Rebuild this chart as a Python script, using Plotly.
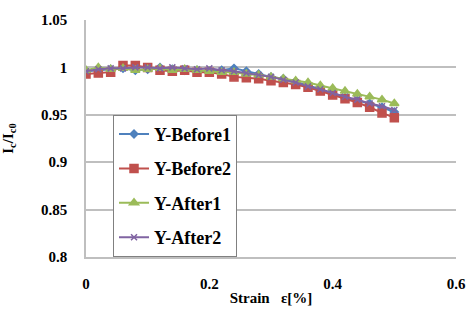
import plotly.graph_objects as go

strain = [0.00, 0.02, 0.04, 0.06, 0.08, 0.10, 0.12, 0.14, 0.16, 0.18, 0.20, 0.22, 0.24,
          0.26, 0.28, 0.30, 0.32, 0.34, 0.36, 0.38, 0.40, 0.42, 0.44, 0.46, 0.48, 0.50]
y_before1 = [0.996, 0.997, 0.998, 0.999, 0.997, 0.998, 1.000, 0.998, 0.997, 0.997, 0.996, 0.997, 0.999,
             0.996, 0.993, 0.990, 0.988, 0.985, 0.981, 0.977, 0.972, 0.968, 0.965, 0.962, 0.958, 0.953]
y_before2 = [0.993, 0.994, 0.995, 1.002, 1.002, 1.000, 0.997, 0.996, 0.997, 0.995, 0.995, 0.993, 0.990,
             0.989, 0.988, 0.986, 0.984, 0.982, 0.979, 0.975, 0.971, 0.967, 0.963, 0.958, 0.952, 0.947]
y_after1 = [0.997, 1.000, 0.998, 0.999, 0.997, 0.998, 0.999, 0.997, 0.998, 0.997, 0.996, 0.995, 0.995,
            0.993, 0.992, 0.990, 0.988, 0.986, 0.984, 0.981, 0.978, 0.975, 0.972, 0.969, 0.966, 0.962]
y_after2 = [0.996, 0.998, 0.999, 0.999, 1.000, 1.000, 0.999, 1.000, 0.999, 0.998, 0.999, 0.997, 0.996,
            0.994, 0.992, 0.990, 0.987, 0.984, 0.980, 0.977, 0.973, 0.969, 0.966, 0.962, 0.959, 0.955]

names = ["Y-Before1", "Y-Before2", "Y-After1", "Y-After2"]
colors = ["#4F81BD", "#C0504D", "#9BBB59", "#8064A2"]
symbols = ["diamond", "square", "triangle-up", "x-thin"]
sizes = [6, 8, 8, 6]
series = [y_before1, y_before2, y_after1, y_after2]

FONT = "Liberation Serif"

fig = go.Figure()
for name, ys, c, s, sz in zip(names, series, colors, symbols, sizes):
    fig.add_trace(go.Scatter(
        x=strain, y=ys, name=name, mode="lines+markers",
        line=dict(color=c, width=2),
        marker=dict(symbol=s, size=sz, color=c, line=dict(color=c, width=1.5)),
        legendgroup=name,
    ))

fig.update_layout(
    width=469, height=325,
    margin=dict(l=86, r=13, t=20, b=68),
    paper_bgcolor="white", plot_bgcolor="white",
    font=dict(family=FONT, size=14, color="black"),
    showlegend=True,
    legend=dict(
        x=0.073, y=0.6, xanchor="left", yanchor="top",
        bgcolor="white", bordercolor="#808080", borderwidth=1,
        font=dict(family=FONT, size=18, color="black", weight="bold"),
        tracegroupgap=8, itemwidth=30,
    ),
    xaxis=dict(
        range=[0, 0.6], tickvals=[0, 0.2, 0.4, 0.6], ticktext=["0", "0.2", "0.4", "0.6"],
        showgrid=False, zeroline=False, showline=True, linecolor="#BFBFBF", linewidth=1.5,
        ticks="", tickfont=dict(family=FONT, size=15, weight="bold"), ticklabelstandoff=12,
        automargin=False,
        title=dict(text="Strain   ε[%]", font=dict(family=FONT, size=15, weight="bold"), standoff=2),
    ),
    yaxis=dict(
        range=[0.8, 1.05], tickvals=[0.8, 0.85, 0.9, 0.95, 1.0, 1.05],
        ticktext=["0.8", "0.85", "0.9", "0.95", "1", "1.05"],
        showgrid=True, gridcolor="#BFBFBF", gridwidth=1.5, zeroline=False,
        showline=True, linecolor="#BFBFBF", linewidth=1.5,
        ticks="", tickfont=dict(family=FONT, size=15, weight="bold"), ticklabelstandoff=14,
        automargin=False,
        title=dict(text="I<sub>c</sub>/I<sub>c0</sub>", font=dict(family=FONT, size=15, weight="bold"), standoff=24),
    ),
)

fig.write_html("out.html", config={"displayModeBar": False},
               post_script="document.body.style.margin='0';")
